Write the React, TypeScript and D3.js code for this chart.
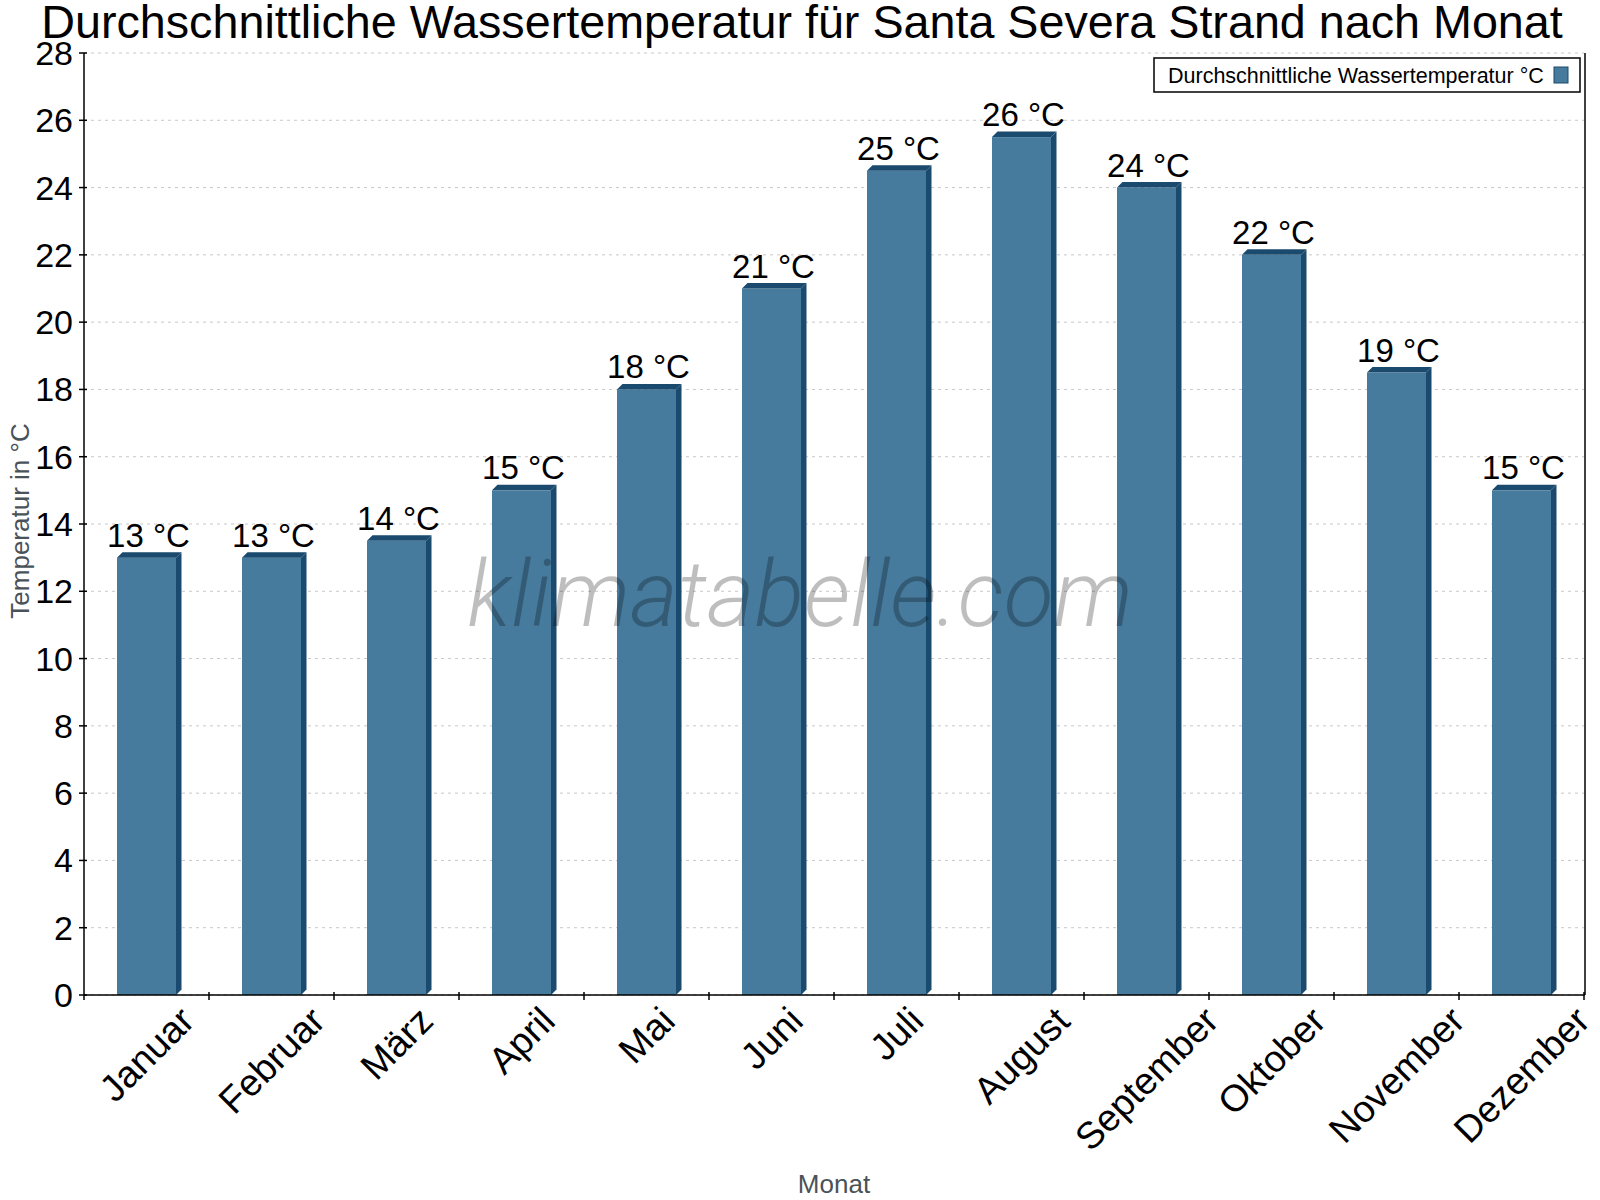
import { useLayoutEffect, useRef, useState } from "react";
import { scaleBand, scaleLinear, range } from "d3";

const months = [
  "Januar",
  "Februar",
  "März",
  "April",
  "Mai",
  "Juni",
  "Juli",
  "August",
  "September",
  "Oktober",
  "November",
  "Dezember",
];
const waterTemp = [13, 13, 13.5, 15, 18, 21, 24.5, 25.5, 24, 22, 18.5, 15];
const yTicks = range(0, 29, 2);

const title = "Durchschnittliche Wassertemperatur für Santa Severa Strand nach Monat";
const seriesName = "Durchschnittliche Wassertemperatur °C";

const FRONT = "#467b9d";
const DARK = "#1a4a6d";

export default function App() {
  const W = 1600;
  const H = 1200;
  const left = 84;
  const right = 1584;
  const top = 53;
  const bottom = 995;
  const depth = 5.5;
  const barW = 59;
  const labelTop = 999;

  const svgRef = useRef<SVGSVGElement | null>(null);
  const labelRefs = useRef<(SVGTextElement | null)[]>([]);
  const [shifts, setShifts] = useState<[number, number][]>(months.map(() => [0, 0]));

  const x = scaleBand().domain(months).range([left, right]).padding(0);
  const y = scaleLinear().domain([0, 28]).range([bottom, top]);
  const font = "'Liberation Sans', Arial, sans-serif";

  // rotated month labels: centre their bounding box under the band, top at a fixed line
  useLayoutEffect(() => {
    const svg = svgRef.current;
    if (!svg) return;
    const s = svg.getBoundingClientRect();
    const next = months.map((m, i) => {
      const el = labelRefs.current[i];
      if (!el) return [0, 0] as [number, number];
      const r = el.getBoundingClientRect();
      const cx = (x(m) ?? 0) + x.bandwidth() / 2;
      const midX = (r.left + r.right) / 2 - s.left;
      const topY = r.top - s.top;
      return [cx - midX + shifts[i][0], labelTop - topY + shifts[i][1]] as [number, number];
    });
    const changed = next.some(
      (d, i) => Math.abs(d[0] - shifts[i][0]) > 0.5 || Math.abs(d[1] - shifts[i][1]) > 0.5,
    );
    if (changed) setShifts(next);
  });

  return (
    <svg
      ref={svgRef}
      width={W}
      height={H}
      style={{ position: "absolute", left: 0, top: 0, background: "#fff" }}
      fontFamily={font}
    >
      {/* grid */}
      {yTicks.map((t) => (
        <line
          key={t}
          x1={left}
          x2={right}
          y1={y(t)}
          y2={y(t)}
          stroke="#c8c8c8"
          strokeDasharray="3,4"
          strokeWidth={1}
        />
      ))}

      {/* bars */}
      {waterTemp.map((v, i) => {
        const cx = (x(months[i]) ?? 0) + x.bandwidth() / 2;
        const x0 = cx - barW / 2;
        const x1 = cx + barW / 2;
        const yt = y(v);
        const yb = y(0);
        return (
          <g key={i}>
            <rect x={x0} y={yt} width={barW} height={yb - yt} fill={FRONT} />
            <polygon
              points={`${x0},${yt} ${x0 + depth},${yt - depth} ${x1 + depth},${yt - depth} ${x1},${yt}`}
              fill={DARK}
            />
            <polygon
              points={`${x1},${yt} ${x1 + depth},${yt - depth} ${x1 + depth},${yb - depth} ${x1},${yb}`}
              fill={DARK}
            />
            <text x={cx + 2} y={yt - 11} textAnchor="middle" fontSize={33} fill="#000">
              {`${Math.round(v)} °C`}
            </text>
          </g>
        );
      })}

      {/* watermark */}
      <text
        x={800}
        y={626}
        textAnchor="middle"
        fontFamily="Roboto, sans-serif"
        fontStyle="italic"
        fontWeight={300}
        fontSize={92}
        fill="#000"
        opacity={0.25}
      >
        klimatabelle.com
      </text>

      {/* axes */}
      <line x1={left} x2={left} y1={top} y2={bottom + 5} stroke="#000" strokeWidth={1.5} />
      <line x1={right + 1} x2={right + 1} y1={top} y2={bottom} stroke="#000" strokeWidth={1.5} />
      <line x1={left} x2={right + 1} y1={bottom} y2={bottom} stroke="#000" strokeWidth={1.5} />
      {yTicks.map((t) => (
        <g key={t}>
          <line x1={left - 5} x2={left + 3} y1={y(t)} y2={y(t)} stroke="#000" strokeWidth={1.5} />
          <text x={73} y={y(t) + 12} textAnchor="end" fontSize={34} fill="#000">
            {t}
          </text>
        </g>
      ))}
      {months.map((m) => (
        <line
          key={m}
          x1={(x(m) ?? 0) + x.bandwidth()}
          x2={(x(m) ?? 0) + x.bandwidth()}
          y1={bottom - 3}
          y2={bottom + 5}
          stroke="#000"
          strokeWidth={1.5}
        />
      ))}
      {months.map((m, i) => {
        const cx = (x(m) ?? 0) + x.bandwidth() / 2;
        return (
          <text
            key={m}
            ref={(el) => {
              labelRefs.current[i] = el;
            }}
            transform={`translate(${cx + shifts[i][0]},${labelTop + shifts[i][1]}) rotate(-45)`}
            textAnchor="middle"
            fontSize={37.5}
            fill="#000"
          >
            {m}
          </text>
        );
      })}

      {/* axis titles */}
      <text
        transform={`translate(29,521) rotate(-90)`}
        textAnchor="middle"
        fontSize={26}
        fill="#4a5259"
      >
        Temperatur in °C
      </text>
      <text x={(left + right) / 2} y={1193} textAnchor="middle" fontSize={26} fill="#4a5259">
        Monat
      </text>

      {/* title */}
      <text x={802} y={38} textAnchor="middle" fontSize={46.7} fill="#000">
        {title}
      </text>

      {/* legend */}
      <rect x={1154} y={58} width={426} height={34} fill="#fff" stroke="#000" strokeWidth={1.5} />
      <text x={1168} y={82.5} fontSize={21.5} fill="#000">
        {seriesName}
      </text>
      <rect x={1554} y={67} width={14} height={16} fill={FRONT} stroke={DARK} strokeWidth={1} />
    </svg>
  );
}
